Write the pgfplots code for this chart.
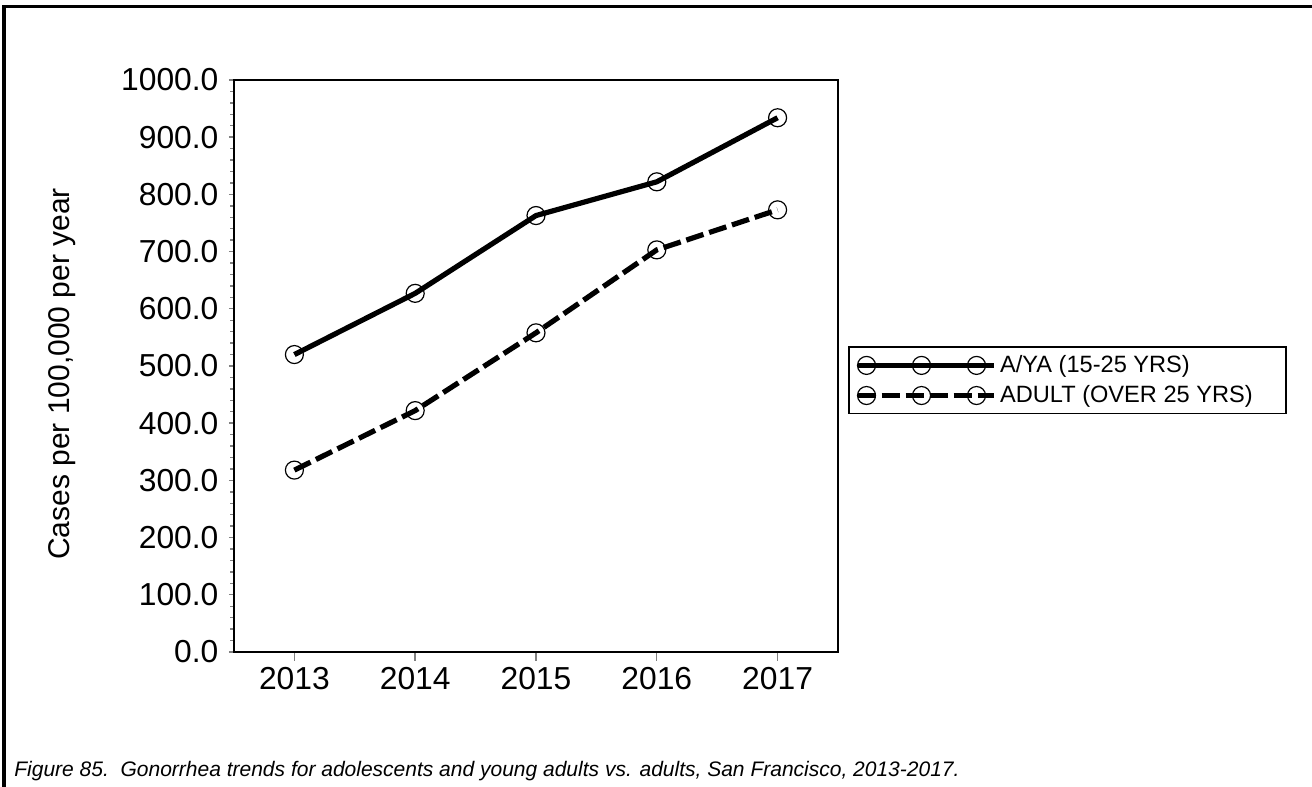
\documentclass[border=0pt]{standalone}
\usepackage{pgfplots}
\pgfplotsset{compat=1.18}
\usepackage{fontspec}
\setmainfont{Liberation Sans}
\begin{document}
\begin{tikzpicture}
\path[use as bounding box] (0pt,0pt) rectangle (656pt,393.5pt);
\draw[line width=1.6pt] (2pt,0pt) -- (2pt,390.4pt) -- (656pt,390.4pt);
\begin{axis}[
  at={(117pt,67.5pt)}, anchor=south west,
  scale only axis, width=302pt, height=286pt,
  xmin=2012.5, xmax=2017.5, ymin=0, ymax=1000,
  axis line style={line width=0.9pt},
  xtick={2013,2014,2015,2016,2017},
  xticklabels={2013,2014,2015,2016,2017},
  ytick={0,100,...,1000},
  minor y tick num=4,
  tick align=outside,
  xtick pos=bottom, ytick pos=left,
  xtick style={line width=0.7pt, /pgfplots/major tick length=4.5pt},
  ytick style={line width=0.7pt, /pgfplots/major tick length=2.6pt, /pgfplots/minor tick length=1.8pt},
  minor tick style={line width=0.7pt},
  /pgf/number format/assume math mode=true,
  yticklabel style={/pgf/number format/.cd, fixed, fixed zerofill, precision=1, 1000 sep={}},
  ticklabel style={font=\fontsize{15.9}{18}\selectfont},
  ylabel={Cases per 100,000 per year},
  every axis y label/.style={at={(axis description cs:-0.285,0.486)}, rotate=90, anchor=center, font=\fontsize{15}{18}\selectfont},
  legend style={at={(1.0166,0.4747)}, anchor=west, draw=black, line width=0.9pt,
    font=\fontsize{11.8}{14}\selectfont, inner xsep=3pt, inner ysep=2pt, row sep=1pt,
    cells={anchor=west}},
  legend image code/.code={
    \draw[#1, mark indices={2,3,4}] plot coordinates {(0pt,0pt) (4.5pt,0pt) (32pt,0pt) (59.5pt,0pt) (68pt,0pt)};
  },
]
\addplot[black, line width=2.6pt, mark=o, mark size=4.5pt, mark options={solid, line width=0.6pt, fill=none}]
  coordinates {(2013,520) (2014,627) (2015,763) (2016,822) (2017,934)};
\addlegendentry{\makebox[138pt][l]{A/YA (15-25 YRS)}}
\addplot[black, line width=2.6pt, dash pattern=on 9pt off 3pt, mark=o, mark size=4.5pt, mark options={solid, line width=0.6pt, fill=none}]
  coordinates {(2013,318) (2014,422) (2015,558) (2016,703) (2017,773)};
\addlegendentry{\makebox[138pt][l]{ADULT (OVER 25 YRS)}}
\end{axis}
\node[anchor=base west, font=\fontsize{10.5}{12}\selectfont\itshape, inner sep=0pt] at (7pt,5pt)
  {Figure 85.\ \ Gonorrhea trends for adolescents and young adults vs. adults, San Francisco, 2013-2017.};
\end{tikzpicture}
\end{document}
